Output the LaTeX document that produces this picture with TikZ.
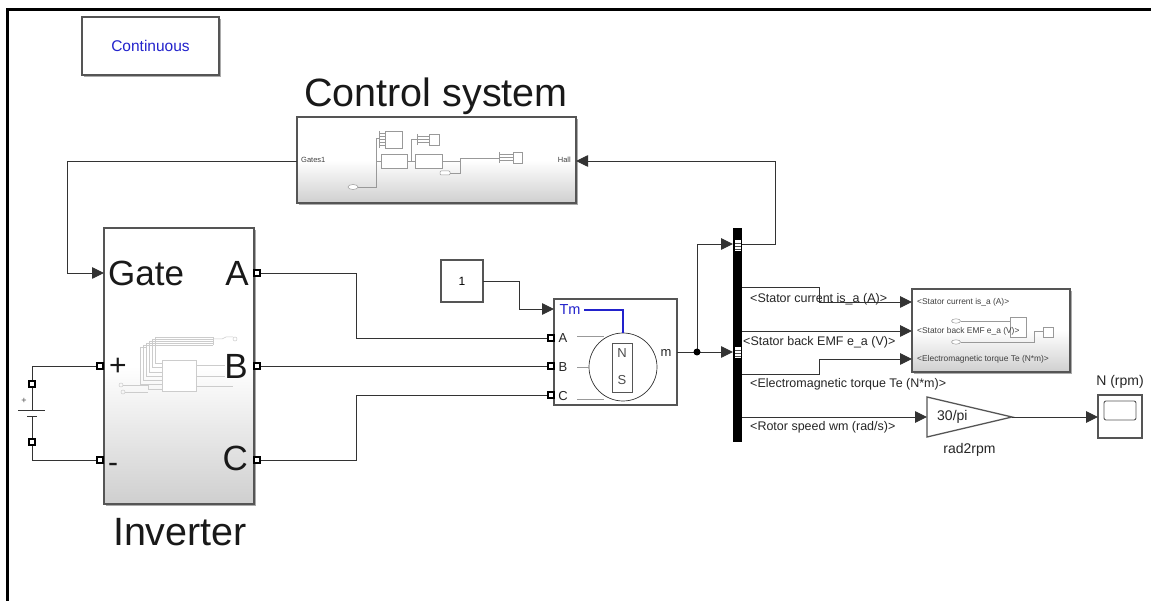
\documentclass[tikz,border=0pt]{standalone}
\usepackage{fontspec}
\setmainfont{Liberation Sans}
\usetikzlibrary{arrows.meta,shadows}
\definecolor{wirecol}{HTML}{333333}
\definecolor{framecol}{HTML}{555555}
\definecolor{bluetxt}{HTML}{2222CC}
\definecolor{blockgray}{HTML}{CFCFCF}
\definecolor{faintcol}{HTML}{CCCCCC}
\definecolor{innercol}{HTML}{999999}
\pgfdeclareverticalshading{simfade}{100bp}{color(0bp)=(blockgray); color(25bp)=(blockgray); color(50bp)=(white); color(100bp)=(white)}
\newcommand{\fs}[1]{\fontsize{#1}{#1}\selectfont}
\tikzset{
  wire/.style={draw=wirecol,line width=0.9pt},
  block/.style={draw=framecol,line width=1.3pt,inner sep=0pt,fill=white},
  subsys/.style={block,shading=simfade,drop shadow={shadow xshift=1.6pt,shadow yshift=-1.6pt,fill=black!65}},
  port/.style={draw=black,fill=white,line width=2.2pt,minimum size=6pt,inner sep=0pt},
  lbl/.style={inner sep=0pt,anchor=west,font=\fs{12.5},text=black!85},
  tinylbl/.style={inner sep=0pt,anchor=west,font=\fs{8.4},text=black!75},
  big/.style={inner sep=0pt,anchor=base,font=\fs{39.5},text=black!90},
  pin/.style={inner sep=0pt,anchor=base,font=\fs{35},text=black!90},
  inner/.style={draw=innercol,line width=0.5pt},
  faint/.style={draw=faintcol,line width=0.5pt},
}
\begin{document}
\begin{tikzpicture}[x=1pt,y=-1pt,>={Triangle[length=12pt,width=11.5pt]}]
\useasboundingbox (0,0) rectangle (1151,601);
\fill[white] (0,0) rectangle (1151,601);
% frame
\draw[line width=3pt] (7,601) -- (7,10) -- (1151,10);
% blocks
\node[block,drop shadow={shadow xshift=1.6pt,shadow yshift=-1.6pt,fill=black!65},minimum width=137pt,minimum height=58pt,text=bluetxt,font=\fs{15.5}] (solver) at (150.5,46) {Continuous};
\node[subsys,minimum width=279pt,minimum height=86pt] (ctrl) at (436.5,160) {};
\node[subsys,minimum width=150pt,minimum height=276pt] (inv) at (179,366) {};
\node[subsys,minimum width=158pt,minimum height=83pt] (meas) at (991,330.5) {};
\node[block,minimum width=42pt,minimum height=42pt,font=\fs{12}] (torque) at (462,281) {1};
\node[block,minimum width=123pt,minimum height=106pt] (motor) at (615.5,352) {};
\node[block,minimum width=44pt,minimum height=43pt] (scope) at (1120,416.5) {};
\node[draw=framecol,line width=0.9pt,rounded corners=2pt,fill=white,minimum width=32pt,minimum height=19pt,inner sep=0pt] (screen) at (1120,410.5) {};
\node[fill=black,minimum width=9pt,minimum height=214pt,inner sep=0pt] (bus) at (737.5,335) {};
% titles
\node[big] (ctrltitle) at (436,107) {Control system};
\node[big] (invtitle) at (180,545) {Inverter};
\node[inner sep=0pt,font=\fs{14},text=black!85] (scopetitle) at (1120,382) {N (rpm)};
\node[inner sep=0pt,font=\fs{14},text=black!85] (gainname) at (969.5,450) {rad2rpm};
% inverter pins
\node[pin,anchor=base west] (gatepin) at (108,286) {Gate};
\node[pin,anchor=base east] (apin) at (249,286) {A};
\node[pin,anchor=base east] (bpin) at (248,378) {B};
\node[pin,anchor=base east] (cpin) at (248,470) {C};
\node[pin,font=\fs{30}] (pluspin) at (118,376) {+};
\node[pin,font=\fs{30}] (minuspin) at (113,472) {-};
% control system labels and contents
\node[tinylbl,font=\fs{7.5}] (gateslbl) at (301,160) {Gates1};
\node[tinylbl,font=\fs{7.5},anchor=east] (halllbl) at (571,160) {Hall};
\begin{scope}[inner]
  \draw[fill=white] (381,154) rectangle (407,168);
  \draw[fill=white] (415,154) rectangle (442,168);
  \draw[fill=white] (385,131) rectangle (402,148);
  \draw[fill=white] (429,134) rectangle (439,145);
  \draw[fill=white] (513,152) rectangle (522,163);
  \draw[fill=white] (353,187) ellipse (5pt and 2.5pt);
  \draw[fill=white,rounded corners=1pt] (440,171) rectangle (450,175);
  \draw (379,131) -- (379,148);
  \draw (417,134) -- (417,145);
  \draw (499,152) -- (499,163);
  \draw (358,187) -- (376,187) -- (376,138) -- (379,138);
  \draw (376,161) -- (381,161);
  \draw (407,161) -- (415,161);
  \draw (411,161) -- (411,139) -- (417,139);
  \draw (442,161) -- (460,161) -- (460,158) -- (499,158);
  \draw (450,173) -- (460,173) -- (460,161);
  \foreach \yy in {133,136,139,142,145} \draw (379,\yy) -- (385,\yy);
  \foreach \yy in {136,139,142} \draw (417,\yy) -- (429,\yy);
  \foreach \yy in {154,157,160} \draw (499,\yy) -- (513,\yy);
\end{scope}
% inverter contents
\begin{scope}[faint]
  \draw[fill=white] (162,360) rectangle (196,391);
  \draw (213,337) -- (213,345);
  \draw (213,339) -- (222,339) -- (226,337) -- (233,337);
  \draw (235,339) circle (2pt);
  \draw (121,385) circle (2pt);
  \draw (123,392) circle (2pt);
  \draw (123,385) -- (148,385) -- (148,389) -- (162,389);
  \draw (125,392) -- (148,392);
  \draw (196,365) -- (225,365);
  \draw (196,376) -- (225,376);
  \draw (196,386) -- (233,386);
  \draw (155,337) -- (213,337);
  \draw (155,337) -- (155,363) -- (162,363);
  \draw (152,339) -- (213,339);
  \draw (152,339) -- (152,367) -- (162,367);
  \draw (149,341) -- (213,341);
  \draw (149,341) -- (149,372) -- (162,372);
  \draw (146,343) -- (213,343);
  \draw (146,343) -- (146,376) -- (162,376);
  \draw (143,345) -- (213,345);
  \draw (143,345) -- (143,380) -- (162,380);
  \draw (140,347) -- (146,347);
  \draw (140,347) -- (140,384) -- (162,384);
\end{scope}
% motor contents
\node[inner sep=0pt,font=\fs{14.5},text=bluetxt] (tmlbl) at (570,310) {Tm};
\node[inner sep=0pt,font=\fs{13},text=black!85] (malbl) at (563,338) {A};
\node[inner sep=0pt,font=\fs{13},text=black!85] (mblbl) at (563,367) {B};
\node[inner sep=0pt,font=\fs{13},text=black!85] (mclbl) at (563,396) {C};
\node[inner sep=0pt,font=\fs{13},text=black!85] (mlbl) at (666,353) {m};
\draw[wirecol,line width=0.7pt] (623,367) circle (34pt);
\draw[draw=innercol,line width=0.9pt] (577,336) -- (604,336);
\draw[draw=innercol,line width=0.9pt] (577,367) -- (589,367);
\draw[draw=innercol,line width=0.9pt] (577,399) -- (604,399);
\draw[bluetxt,line width=1.3pt] (584,310) -- (623,310) -- (623,333);
\node[draw=framecol,line width=0.8pt,minimum width=20pt,minimum height=49pt,inner sep=0pt] (rotor) at (622,367.5) {};
\node[inner sep=0pt,font=\fs{13},text=black!70] (nlbl) at (622,353) {N};
\node[inner sep=0pt,font=\fs{13},text=black!70] (slbl) at (622,380) {S};
% measurement subsystem contents
\node[tinylbl] (m1) at (917,302) {<Stator current is\_a (A)>};
\begin{scope}[faint,draw=innercol]
  \draw[fill=white] (1010,317) rectangle (1026,337);
  \draw[fill=white] (1043,327) rectangle (1053,337);
  \draw[fill=white] (956,321) ellipse (4.5pt and 2.2pt);
  \draw[fill=white] (956,342) ellipse (4.5pt and 2.2pt);
  \draw (960.5,321) -- (1010,321);
  \draw (960.5,342) -- (1034,342) -- (1034,331) -- (1043,331);
\end{scope}
\node[tinylbl] (m2) at (917,331) {<Stator back EMF e\_a (V)>};
\node[tinylbl] (m3) at (917,359) {<Electromagnetic torque Te (N*m)>};
% battery
\node[port] (batp) at (32,384) {};
\node[port] (batm) at (32,442) {};
\node[inner sep=0pt,font=\fs{9},text=black!70] (batplus) at (24,401) {+};
\draw[wirecol,line width=0.9pt] (18,410) -- (45,410);
\draw[wirecol,line width=0.9pt] (27,416) -- (37,416);
\draw[wire] (batp) -- (32,410);
\draw[wire] (32,416) -- (batm);
% ports
\node[port] (invplus) at (100,366) {};
\node[port] (invminus) at (100,460) {};
\node[port] (inva) at (257,273) {};
\node[port] (invb) at (257,366) {};
\node[port] (invc) at (257,460) {};
\node[port] (mota) at (551,338) {};
\node[port] (motb) at (551,366) {};
\node[port] (motc) at (551,395) {};
% gain
\coordinate (gaina) at (927,397);
\coordinate (gainb) at (927,437);
\coordinate (gainc) at (1012,417);
\draw[block,line join=miter] (gaina) -- (gainc) -- (gainb) -- cycle;
\node[inner sep=0pt,font=\fs{14},text=black!85,anchor=west] (gainval) at (937,417) {30/pi};
% bus selector stripes
\node[fill=white,minimum width=6pt,minimum height=11pt,inner sep=0pt] (sel1) at (737.5,245.5) {};
\node[fill=white,minimum width=6pt,minimum height=11pt,inner sep=0pt] (sel2) at (737.5,352.5) {};
\foreach \yy in {243,246,249} \draw[black!70,line width=0.7pt] (734.5,\yy) -- (740.5,\yy);
\foreach \yy in {350,353,356} \draw[black!70,line width=0.7pt] (734.5,\yy) -- (740.5,\yy);
% bus labels
\node[lbl] (l1) at (750,299) {<Stator current is\_a (A)>};
\node[lbl] (l2) at (743,342) {<Stator back EMF e\_a (V)>};
\node[lbl] (l3) at (750,384) {<Electromagnetic torque Te (N*m)>};
\node[lbl] (l4) at (750,427) {<Rotor speed wm (rad/s)>};
% wiring points
\coordinate (gatein) at (104,273);
\coordinate (gatesout) at (297,161);
\coordinate (hallin) at (576,161);
\coordinate (tmin) at (554,309);
\coordinate (torqueout) at (483,281);
\coordinate (mout) at (677,352);
\coordinate (dot) at (697,352);
\coordinate (sela) at (733,244);
\coordinate (selb) at (733,352);
\coordinate (hallout) at (742,244);
\coordinate (bus1) at (742,287);
\coordinate (bus2) at (742,331);
\coordinate (bus3) at (742,374);
\coordinate (bus4) at (742,417);
\coordinate (in1) at (912,302);
\coordinate (in2) at (912,331);
\coordinate (in3) at (912,359);
\coordinate (gainin) at (927,417);
\coordinate (scopein) at (1098,417);
% wires
\draw[wire,->] (gatesout) -- (67,161) -- (67,273) -- (gatein);
\draw[wire,->] (hallout) -- (775,244) -- (775,161) -- (hallin);
\draw[wire] (inva) -- (356,273) -- (356,338) -- (mota);
\draw[wire] (invb) -- (motb);
\draw[wire] (invc) -- (356,460) -- (356,395) -- (motc);
\draw[wire] (invplus) -- (32,366) -- (batp);
\draw[wire] (invminus) -- (32,460) -- (batm);
\draw[wire,->] (torqueout) -- (519,281) -- (519,309) -- (tmin);
\draw[wire,->] (mout) -- (selb);
\draw[wire,->] (dot) -- (697,244) -- (sela);
\fill[black] (dot) circle (3.5pt);
\draw[wire,->] (bus1) -- (819,287) -- (819,302) -- (in1);
\draw[wire,->] (bus2) -- (in2);
\draw[wire,->] (bus3) -- (819,374) -- (819,359) -- (in3);
\draw[wire,->] (bus4) -- (gainin);
\draw[wire,->] (gainc) -- (scopein);
\end{tikzpicture}
\end{document}
